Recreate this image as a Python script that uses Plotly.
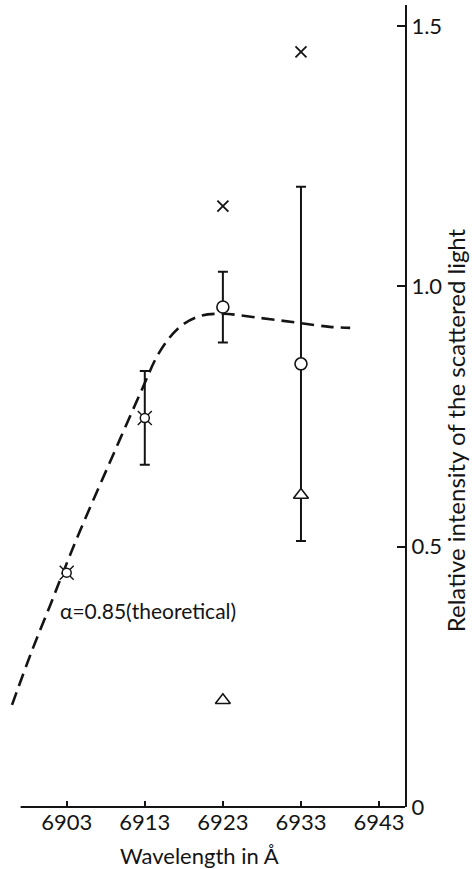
import plotly.graph_objects as go

# Measured relative intensities at each wavelength (Å)
star_x = [6903, 6913]
star_y = [0.45, 0.747]

circle_x = [6923, 6933]
circle_y = [0.96, 0.851]

cross_x = [6923, 6933]
cross_y = [1.154, 1.45]

tri_x = [6923, 6933]
tri_y = [0.205, 0.599]

# error bars (symmetric half-widths) on the averaged points
err_x = [6913, 6923, 6933]
err_y = [0.747, 0.96, 0.851]
err_half = [0.09, 0.068, 0.34]

# theoretical spectrum for alpha = 0.85
theory_x = [6896.0, 6898.6, 6900.9, 6902.5, 6904.7, 6908.5, 6912.5, 6914.9,
            6917.5, 6920.1, 6923.0, 6927.8, 6932.5, 6936.7, 6939.3]
theory_y = [0.196, 0.302, 0.388, 0.449, 0.53, 0.661, 0.797, 0.874,
            0.922, 0.943, 0.947, 0.939, 0.930, 0.922, 0.920]

x_ticks = [6903, 6913, 6923, 6933, 6943]
y_ticks = [0, 0.5, 1.0, 1.5]
y_tick_text = ["0", "0.5", "1.0", "1.5"]

INK = "#141414"
FAMILY = "Lato"
TICK_FONT = dict(family=FAMILY, size=22, color=INK)
LABEL_FONT = dict(family=FAMILY, size=21, color=INK)
XTITLE_FONT = dict(family=FAMILY, size=22, color=INK)
YTITLE_FONT = dict(family=FAMILY, size=24, color=INK)

X_MIN, X_MAX = 6895.74, 6946.32
Y_MIN, Y_MAX = 0.0, 1.540
AXIS_START = 6897.1

fig = go.Figure()

fig.add_trace(go.Scatter(
    x=theory_x, y=theory_y, mode="lines", line_shape="spline",
    line=dict(color=INK, width=2.6, dash="13px,7px"), hoverinfo="skip"))

fig.add_trace(go.Scatter(
    x=err_x, y=err_y, mode="markers",
    marker=dict(size=1, color="rgba(0,0,0,0)"),
    error_y=dict(type="data", array=err_half, visible=True,
                 color=INK, thickness=2, width=5)))

fig.add_trace(go.Scatter(
    x=cross_x, y=cross_y, mode="markers",
    marker=dict(symbol="x-thin-open", size=11, color=INK,
                line=dict(color=INK, width=1.8))))

fig.add_trace(go.Scatter(
    x=tri_x, y=tri_y, mode="markers",
    marker=dict(symbol="triangle-up", size=13, color="white",
                line=dict(color=INK, width=1.6))))

fig.add_trace(go.Scatter(
    x=circle_x, y=circle_y, mode="markers",
    marker=dict(symbol="circle", size=12, color="white",
                line=dict(color=INK, width=1.6))))

# circle with four diagonal spurs
fig.add_trace(go.Scatter(
    x=star_x, y=star_y, mode="markers",
    marker=dict(symbol="x-thin-open", size=14, color=INK,
                line=dict(color=INK, width=1.4))))
fig.add_trace(go.Scatter(
    x=star_x, y=star_y, mode="markers",
    marker=dict(symbol="circle", size=9, color="white",
                line=dict(color=INK, width=1.5))))

# bottom axis line, starting a little inside the plotting area
fig.add_shape(type="line", xref="paper", yref="paper",
              x0=(AXIS_START - X_MIN) / (X_MAX - X_MIN), x1=1, y0=0, y1=0,
              line=dict(color=INK, width=2))

fig.add_annotation(x=6901.9, y=0.378, xref="x", yref="y",
                   text="α=0.85(theoretical)", showarrow=False,
                   xanchor="left", yanchor="middle", font=LABEL_FONT)

fig.add_annotation(x=0.481, y=-0.06, xref="paper", yref="paper",
                   text="Wavelength in Å", showarrow=False,
                   xanchor="center", yanchor="middle", font=XTITLE_FONT)

fig.add_annotation(x=1.127, y=0.47, xref="paper", yref="paper",
                   text="Relative intensity of the scattered light",
                   showarrow=False, textangle=-90,
                   xanchor="center", yanchor="middle", font=YTITLE_FONT)

fig.update_layout(
    width=474, height=869,
    margin=dict(l=10, r=69, t=5, b=62),
    paper_bgcolor="white", plot_bgcolor="white",
    showlegend=False, font=TICK_FONT,
    xaxis=dict(range=[X_MIN, X_MAX], showgrid=False, zeroline=False,
               showline=False, tickvals=x_ticks, ticks="inside",
               ticklen=6, tickwidth=1.5, tickcolor=INK,
               tickfont=TICK_FONT),
    yaxis=dict(range=[Y_MIN, Y_MAX], side="right", showgrid=False,
               zeroline=False, showline=True, linecolor=INK, linewidth=2,
               tickvals=y_ticks, ticktext=y_tick_text, ticks="inside",
               ticklen=8, tickwidth=1.5, tickcolor=INK, tickfont=TICK_FONT),
)

fig.write_html("out.html")
